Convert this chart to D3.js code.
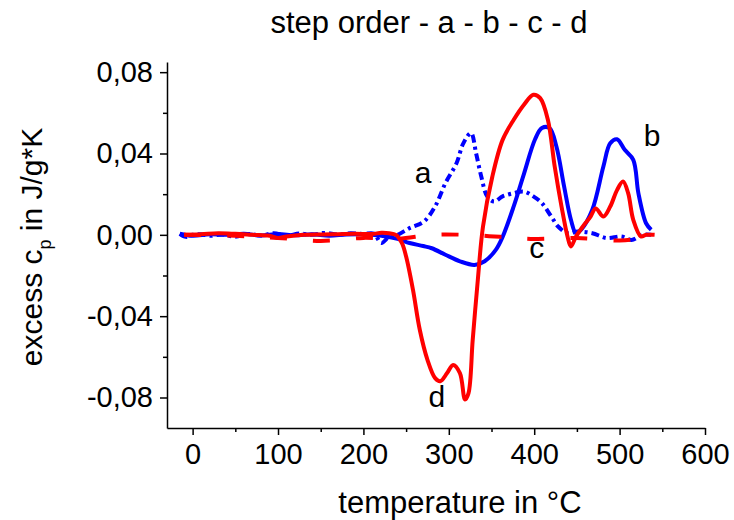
<!DOCTYPE html>
<html>
<head>
<meta charset="utf-8">
<script src="https://cdn.jsdelivr.net/npm/d3@7"></script>
<style>
  body { margin: 0; background: #fff; }
  svg text { font-family: "Liberation Sans", Arial, sans-serif; fill: #000; }
</style>
</head>
<body>
<div id="chart"></div>
<script>
// --- data ---
const aT = [-15, -8, 0, 10, 20, 35, 50, 65, 80, 95, 110, 125, 140, 155, 170, 185, 200, 212, 221, 230, 240, 254, 271, 284, 296, 309, 317, 326, 332, 338, 345, 353, 363, 376, 388, 399, 409, 420, 428, 439, 451, 468, 485, 502, 514, 527, 537];
const aCp = [0.0005, -0.001, 0, 0.0003, -0.0005, 0.0002, -0.001, 0.0004, -0.0003, 0.0008, -0.0005, 0.0006, 0, 0.001, 0.0002, 0.0008, 0.0004, 0.0006, -0.004, -0.001, 0, 0.0033, 0.0066, 0.014, 0.0254, 0.0352, 0.045, 0.05, 0.04, 0.0287, 0.0189, 0.0164, 0.0189, 0.0205, 0.0213, 0.0189, 0.0156, 0.009, 0.0041, 0.0008, 0.0016, 0.0008, -0.0016, -0.0008, -0.0025, 0, 0];

const bT = [-15, 0, 20, 40, 60, 80, 100, 120, 140, 160, 180, 200, 221, 240, 254, 270, 280, 296, 313, 330, 342, 355, 363, 376, 388, 401, 409, 418, 426, 435, 443, 449, 455, 468, 481, 489, 497, 506, 516, 522, 531, 537];
const bCp = [0.0005, -0.0005, 0.0003, 0, 0.0005, -0.0003, 0.0004, -0.0002, 0.0003, -0.0004, 0.0002, 0.0003, -0.0005, -0.002, -0.004, -0.0055, -0.0066, -0.0098, -0.013, -0.0148, -0.013, -0.0074, -0.001, 0.014, 0.03, 0.047, 0.0525, 0.0525, 0.0434, 0.0238, 0.0074, 0.0008, 0.0025, 0.0123, 0.0336, 0.045, 0.047, 0.0418, 0.0369, 0.0205, 0.0057, 0.0025];

const cT = [-10, 50, 100, 150, 200, 240, 280, 320, 360, 400, 450, 500, 520, 541];
const cCp = [0, -0.0005, -0.0015, -0.003, -0.0015, -0.002, 0, 0, -0.001, -0.002, -0.0016, -0.0028, -0.002, 0];

const dT = [-10, 10, 30, 50, 70, 90, 100, 110, 130, 150, 170, 190, 210, 221, 230, 238, 245, 250, 258, 266, 275, 284, 290, 298, 305, 313, 319, 323, 328, 334, 340, 351, 363, 376, 388, 399, 407, 416, 424, 432, 439, 443, 449, 457, 466, 472, 481, 489, 497, 504, 510, 516, 525, 531, 541];
const dCp = [0, 0.0003, 0.0008, 0.0005, 0, -0.0005, -0.0015, -0.0008, 0, 0.0002, 0.0003, 0.0005, 0.0004, 0.001, 0.0008, 0, -0.004, -0.0107, -0.027, -0.0467, -0.0615, -0.0705, -0.072, -0.068, -0.064, -0.068, -0.081, -0.078, -0.0516, -0.022, 0.004, 0.0287, 0.0467, 0.0566, 0.064, 0.0689, 0.0672, 0.0566, 0.0336, 0.0139, -0.0008, -0.0057, -0.0008, 0.0041, 0.009, 0.013, 0.009, 0.0139, 0.022, 0.0262, 0.0205, 0.0074, -0.0008, 0, 0];

const xMajor = [0, 100, 200, 300, 400, 500, 600];
const xMinor = [50, 150, 250, 350, 450, 550];
const yMajor = [-0.08, -0.04, 0, 0.04, 0.08];
const yMinor = [-0.06, -0.02, 0.02, 0.06];

// curve labels: text, temperature, cp
const curveLabels = [
  ["a", 270, 0.0305],
  ["b", 538, 0.049],
  ["c", 403, -0.0064],
  ["d", 286, -0.0797],
];

const W = 734, H = 520;
const svg = d3.select("#chart").append("svg").attr("width", W).attr("height", H);

const x = d3.scaleLinear().domain([-30, 600]).range([167, 705]);
const y = d3.scaleLinear().domain([-0.095, 0.085]).range([428, 62]);

const fmt = (v) => d3.format(".2f")(v).replace(".", ",").replace("−", "-");

// --- axes ---
const xAxis = svg.append("g").attr("transform", `translate(0,${y.range()[0]})`)
  .call(d3.axisBottom(x).tickValues(xMajor).tickSize(7).tickSizeOuter(0).tickPadding(8).tickFormat(d3.format("d")));
svg.append("g").attr("transform", `translate(0,${y.range()[0]})`)
  .call(d3.axisBottom(x).tickValues(xMinor).tickSize(4).tickSizeOuter(0).tickFormat(""))
  .select(".domain").remove();

const yAxis = svg.append("g").attr("transform", `translate(${x.range()[0]},0)`)
  .call(d3.axisLeft(y).tickValues(yMajor).tickSize(7).tickSizeOuter(0).tickPadding(7).tickFormat(fmt));
svg.append("g").attr("transform", `translate(${x.range()[0]},0)`)
  .call(d3.axisLeft(y).tickValues(yMinor).tickSize(4).tickSizeOuter(0).tickFormat(""))
  .select(".domain").remove();

svg.selectAll(".domain, .tick line").attr("stroke", "#000").attr("stroke-width", 1.5);
xAxis.selectAll("text").attr("font-size", 29).attr("font-family", null);
yAxis.selectAll("text").attr("font-size", 29).attr("font-family", null);

// --- series ---
const line = d3.line()
  .x((d) => x(d[0]))
  .y((d) => y(d[1]))
  .curve(d3.curveCatmullRom.alpha(0.5));

function series(ts, vs, color, dash) {
  svg.append("path")
    .datum(ts.map((t, i) => [t, vs[i]]))
    .attr("fill", "none")
    .attr("stroke", color)
    .attr("stroke-width", 4)
    .attr("stroke-linejoin", "round")
    .attr("stroke-dasharray", dash)
    .attr("d", line);
}

series(aT, aCp, "#0000ff", "8,4,3,4");
series(bT, bCp, "#0000ff", null);
series(cT, cCp, "#ff0000", "17,26");
series(dT, dCp, "#ff0000", null);

// --- labels ---
svg.selectAll("text.curve-label")
  .data(curveLabels)
  .enter()
  .append("text")
  .attr("class", "curve-label")
  .attr("x", (d) => x(d[1]))
  .attr("y", (d) => y(d[2]))
  .attr("text-anchor", "middle")
  .attr("dominant-baseline", "central")
  .attr("font-size", 30)
  .text((d) => d[0]);

svg.append("text")
  .attr("x", 429).attr("y", 33)
  .attr("text-anchor", "middle")
  .attr("font-size", 31)
  .text("step order - a - b - c - d");

svg.append("text")
  .attr("x", 460).attr("y", 513)
  .attr("text-anchor", "middle")
  .attr("font-size", 31)
  .text("temperature in °C");

const yt = svg.append("text")
  .attr("transform", "translate(42,247) rotate(-90)")
  .attr("text-anchor", "middle")
  .attr("font-size", 30);
yt.append("tspan").text("excess c");
yt.append("tspan").attr("font-size", 18).attr("dy", 9).text("p");
yt.append("tspan").attr("dy", -9).text(" in J/g*K");
</script>
</body>
</html>
